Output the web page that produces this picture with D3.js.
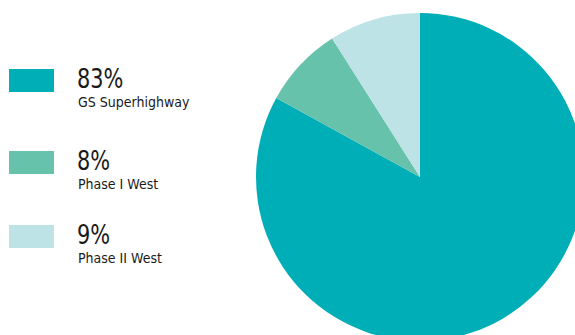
<!DOCTYPE html>
<html>
<head>
<meta charset="utf-8">
<script src="https://cdn.jsdelivr.net/npm/d3@7"></script>
<style>
  html, body { margin: 0; padding: 0; background: #fff; overflow: hidden; }
  text { font-family: "DejaVu Sans Condensed", sans-serif; fill: #1a1a1a; }
</style>
</head>
<body>
<svg id="chart"></svg>
<script>
/*Chart data*/
const categories = ["GS Superhighway", "Phase I West", "Phase II West"];
const shares = [83, 8, 9];
const colours = ["#00aeb8", "#66c2aa", "#bde3e6"];

/*Canvas*/
const chartWidth = 575;
const chartHeight = 335;
const centreX = 420;
const centreY = 177;
const radius = 164;
/*top of each legend row*/
const legendRows = [69, 151, 225];

const svg = d3.select("#chart")
       .attr("width", chartWidth)
       .attr("height", chartHeight);

const colour = d3.scaleOrdinal().domain(categories).range(colours);

/*Pie, clockwise from 12 o'clock, in data order*/
const pie = d3.pie().sort(null).value((d,i)=>shares[i]);
const arc = d3.arc().innerRadius(0).outerRadius(radius);

svg.append("g")
       .attr("transform", "translate(" + centreX + " " + centreY + ")")
       .selectAll("path")
       .data(pie(categories))
       .enter()
       .append("path")
       .attr("d", arc)
       .attr("fill", (d)=>colour(d.data));

/*Legend*/
const legend = svg.append("g").selectAll("g")
       .data(categories)
       .enter()
       .append("g")
       .attr("transform", (d,i)=>"translate(0 " + legendRows[i] + ")");

legend.append("rect")
       .attr("x", 9)
       .attr("y", 0)
       .attr("width", 45)
       .attr("height", 23)
       .attr("fill", (d)=>colour(d));

/*big percentage, squeezed a little to match the narrow face*/
legend.append("text")
       .attr("transform", "translate(77 18.5) scale(0.86 1)")
       .style("font-size", "27px")
       .text((d,i)=>shares[i] + "%");

legend.append("text")
       .attr("x", 78)
       .attr("y", 38)
       .style("font-size", "14px")
       .text((d)=>d);
</script>
</body>
</html>
